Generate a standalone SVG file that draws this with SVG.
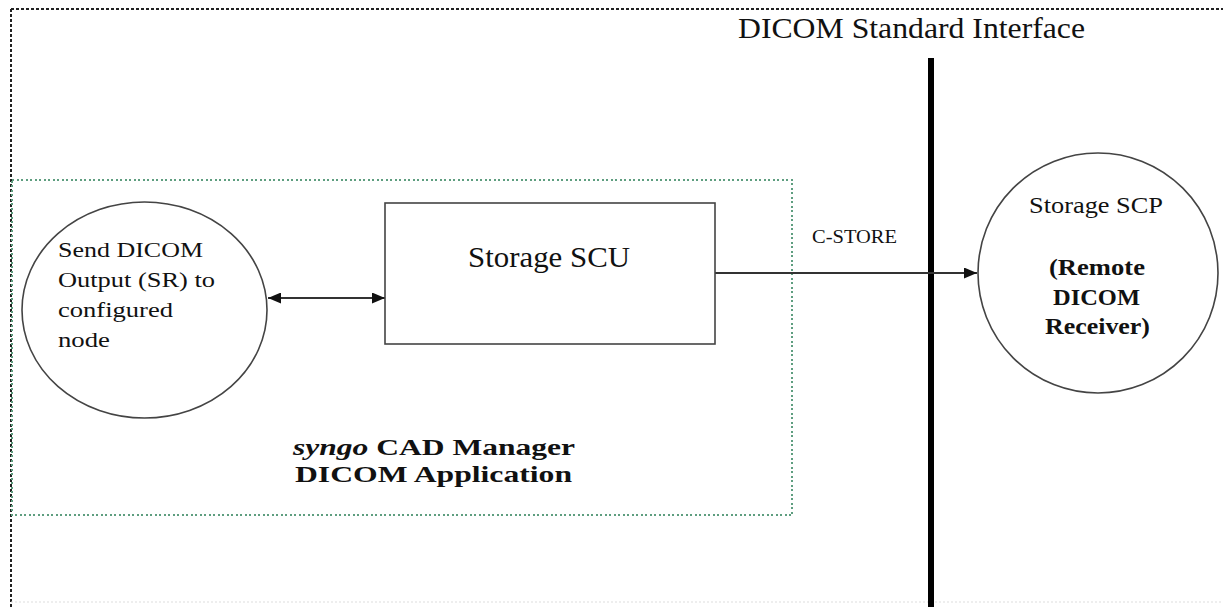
<svg xmlns="http://www.w3.org/2000/svg" width="1223" height="607" viewBox="0 0 1223 607">
<style>
.t{font-family:"Liberation Serif","Times New Roman",serif;fill:#111}
.b{font-weight:bold}
.shape{fill:#fff;stroke:#444;stroke-width:1.6}
.conn{stroke:#333;stroke-width:2;fill:none}
.dash{stroke:#222;stroke-width:2;stroke-dasharray:3,2;shape-rendering:crispEdges}
</style>
<defs>
<marker id="ah" viewBox="0 0 13 11" refX="13" refY="5.5" markerWidth="13" markerHeight="11" markerUnits="userSpaceOnUse" orient="auto-start-reverse">
<path d="M0,0 L13,5.5 L0,11 Z" fill="#111"/>
</marker>
</defs>
<rect width="1223" height="607" fill="#fff"/>
<g id="outer-boundary">
<line class="dash" x1="11" y1="9" x2="1223" y2="9"/>
<line class="dash" x1="11" y1="9" x2="11" y2="607"/>
<line x1="11" y1="602" x2="1223" y2="602" stroke="#ddd" stroke-width="1.2" stroke-dasharray="2,2"/>
</g>
<g id="interface">
<text class="t" x="738" y="38" font-size="29" textLength="347" lengthAdjust="spacingAndGlyphs">DICOM Standard Interface</text>
<line x1="931" y1="58" x2="931" y2="607" stroke="#000" stroke-width="6"/>
</g>
<g id="application-box">
<rect x="12" y="180" width="780" height="335" fill="none" stroke="#5f9e80" stroke-width="2" stroke-dasharray="2,2.5" shape-rendering="crispEdges"/>
<text class="t b" x="293" y="455" font-size="24" textLength="282" lengthAdjust="spacingAndGlyphs"><tspan font-style="italic">syngo</tspan> CAD Manager</text>
<text class="t b" x="295" y="482" font-size="24" textLength="277" lengthAdjust="spacingAndGlyphs">DICOM Application</text>
</g>
<g id="connectors">
<line class="conn" x1="268" y1="298" x2="385" y2="298" marker-start="url(#ah)" marker-end="url(#ah)"/>
<line class="conn" x1="715" y1="273" x2="977" y2="273" marker-end="url(#ah)"/>
<text class="t" x="812" y="243" font-size="19" textLength="85" lengthAdjust="spacingAndGlyphs">C-STORE</text>
</g>
<g id="send-node">
<ellipse class="shape" cx="144.5" cy="310" rx="122.5" ry="108"/>
<text class="t" x="58" y="257" font-size="21" textLength="145" lengthAdjust="spacingAndGlyphs">Send DICOM</text>
<text class="t" x="58" y="287" font-size="21" textLength="157" lengthAdjust="spacingAndGlyphs">Output (SR) to</text>
<text class="t" x="58" y="317" font-size="21" textLength="115" lengthAdjust="spacingAndGlyphs">configured</text>
<text class="t" x="58" y="347" font-size="21" textLength="52" lengthAdjust="spacingAndGlyphs">node</text>
</g>
<g id="storage-scu">
<rect class="shape" x="385" y="203" width="330" height="141" stroke-width="2"/>
<text class="t" x="468" y="267" font-size="30" textLength="162" lengthAdjust="spacingAndGlyphs">Storage SCU</text>
</g>
<g id="storage-scp">
<circle class="shape" cx="1098" cy="273" r="120"/>
<text class="t" x="1029" y="213" font-size="23" textLength="134" lengthAdjust="spacingAndGlyphs">Storage SCP</text>
<text class="t b" x="1049" y="275" font-size="23" textLength="96" lengthAdjust="spacingAndGlyphs">(Remote</text>
<text class="t b" x="1053" y="305" font-size="23" textLength="87" lengthAdjust="spacingAndGlyphs">DICOM</text>
<text class="t b" x="1045" y="334" font-size="23" textLength="105" lengthAdjust="spacingAndGlyphs">Receiver)</text>
</g>
</svg>
